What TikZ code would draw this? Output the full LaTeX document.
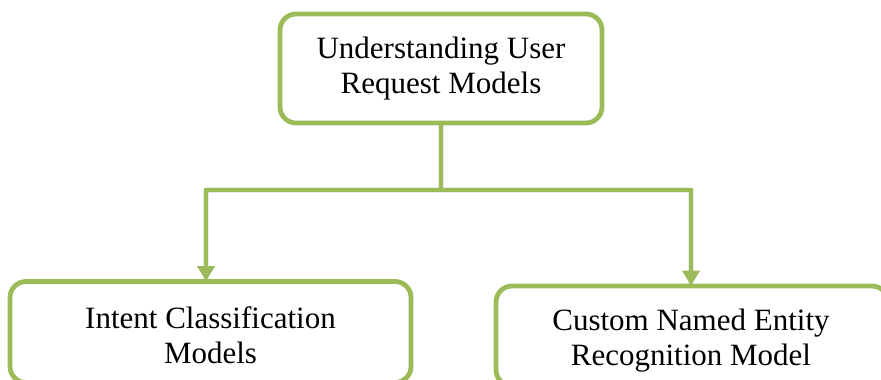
\documentclass[tikz,border=0pt]{standalone}
\usepackage{fontspec}
\setmainfont{Liberation Serif}
\usetikzlibrary{arrows.meta}
\definecolor{olive}{HTML}{9BBB59}
\tikzset{
  modelbox/.style={draw=olive, line width=4.8pt, rounded corners=16pt, fill=white,
    rectangle, inner sep=0pt},
  label text/.style={align=center, inner sep=0pt,
    font=\fontsize{31}{35}\selectfont},
  link/.style={draw=olive, line width=4.5pt},
  linkshadow/.style={draw=black, opacity=0.08, line width=6pt},
  tip/.style={-{Triangle[width=17pt,length=15pt]}},
}
\begin{document}
\begin{tikzpicture}[x=1pt,y=-1pt]
\useasboundingbox (0,0) rectangle (881,380);

% boxes
\node[modelbox, minimum width=322pt, minimum height=109pt] (top) at (441,68.5) {};
\node[modelbox, minimum width=401pt, minimum height=101pt] (left) at (210.5,332) {};
\node[modelbox, minimum width=392pt, minimum height=100pt] (right) at (692,336) {};

% box captions
\node[label text] (toptext) at (top.center) {Understanding User\\Request Models};
\node[label text] (lefttext) at ([yshift=-3pt]left.center) {Intent Classification\\Models};
\node[label text] (righttext) at ([xshift=-1pt,yshift=-5pt]right.center) {Custom Named Entity\\Recognition Model};

% junction points of the connector tree
\coordinate (hl) at (206,190);
\coordinate (hr) at (691,190);

% soft shadow under the connectors
\begin{scope}[shift={(1.5,3)}]
  \draw[linkshadow] (top.south) -- (top.south |- hl);
  \draw[linkshadow] (hl) -- (hr);
  \draw[linkshadow] (hl) -- (hl |- left.north);
  \draw[linkshadow] (hr) -- (hr |- right.north);
\end{scope}

% connectors
\draw[link] (top.south) -- (top.south |- hl);
\draw[link, line cap=rect] (hl) -- (hr);
\draw[link, tip] (hl) -- ([yshift=-2pt]hl |- left.north);
\draw[link, tip] (hr) -- ([yshift=-2pt]hr |- right.north);
\end{tikzpicture}
\end{document}
